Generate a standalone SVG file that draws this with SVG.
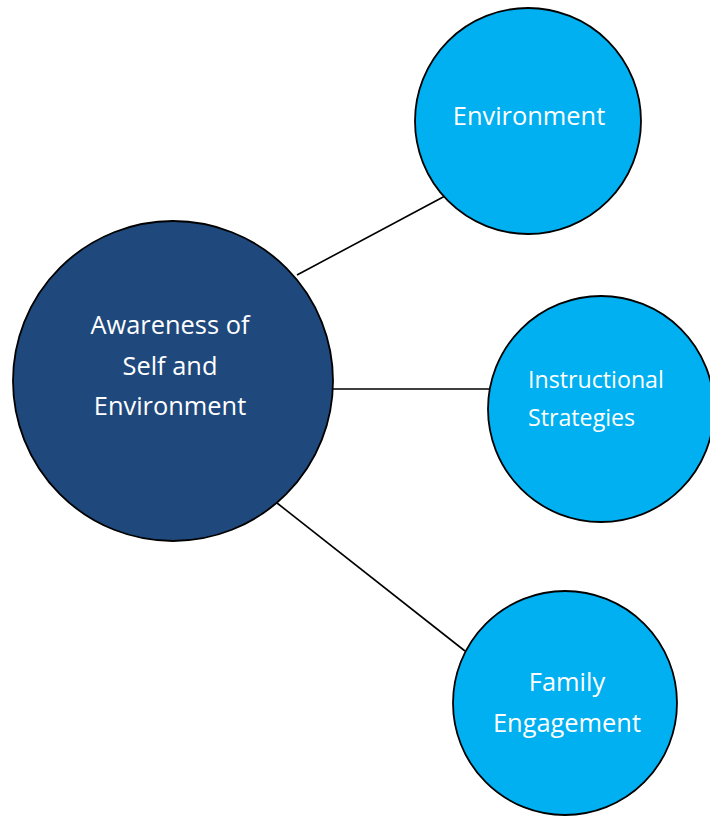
<svg xmlns="http://www.w3.org/2000/svg" width="710" height="817" viewBox="0 0 710 817">
<style>
.node{stroke:#000;stroke-width:1.8}
.dark{fill:#1F497D}
.light{fill:#00B0F0}
.lbl{font-family:"Open Sans",Lato,sans-serif;fill:#fff;font-size:25.4px;text-anchor:middle}
.lbl2{font-family:"Open Sans",Lato,sans-serif;fill:#fff;font-size:23.2px}
.conn{stroke:#000;stroke-width:1.6;fill:none}
</style>
<rect width="710" height="817" fill="#fff"/>
<g id="connectors">
<line class="conn" x1="297" y1="275" x2="445" y2="196"/>
<line class="conn" x1="333" y1="389" x2="489" y2="389"/>
<line class="conn" x1="277" y1="503" x2="465" y2="651"/>
</g>
<g id="awareness">
<circle class="node dark" cx="173" cy="381" r="160"/>
<text class="lbl"><tspan x="170" y="334">Awareness of</tspan><tspan x="170" y="375">Self and</tspan><tspan x="170" y="415">Environment</tspan></text>
</g>
<g id="environment">
<circle class="node light" cx="528" cy="121" r="113"/>
<text class="lbl" x="529" y="125">Environment</text>
</g>
<g id="instructional">
<circle class="node light" cx="601" cy="409" r="113"/>
<text class="lbl2"><tspan x="528" y="388">Instructional</tspan><tspan x="528" y="426">Strategies</tspan></text>
</g>
<g id="family">
<circle class="node light" cx="565" cy="703" r="112"/>
<text class="lbl"><tspan x="567" y="691">Family</tspan><tspan x="567" y="732">Engagement</tspan></text>
</g>
</svg>
